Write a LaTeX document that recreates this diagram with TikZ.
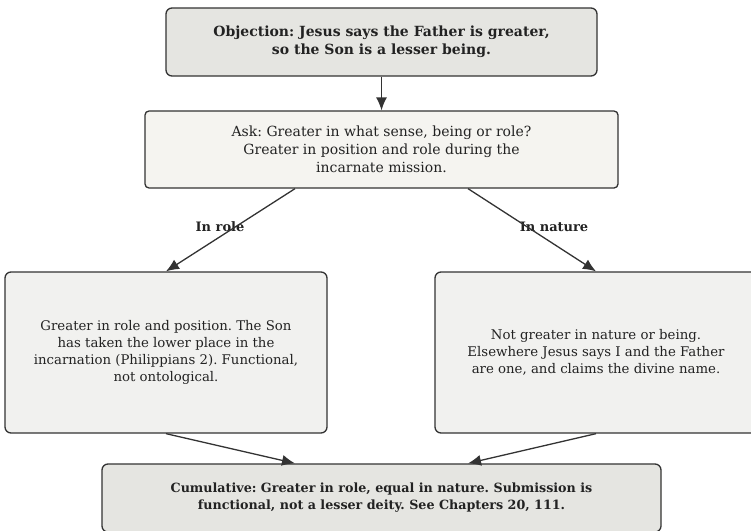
\documentclass[tikz,border=0pt]{standalone}
\usepackage{fontspec}
\setmainfont{DejaVu Serif}
\usetikzlibrary{positioning,calc,arrows.meta}
\definecolor{headgray}{RGB}{229,229,225}
\definecolor{askcream}{RGB}{245,244,240}
\definecolor{branchgray}{RGB}{241,241,239}
\definecolor{edgedark}{RGB}{51,51,51}
\definecolor{textdark}{RGB}{34,34,34}
\frenchspacing

\begin{document}
\begin{tikzpicture}[x=1pt,y=-1pt,
    box/.style={draw=edgedark, line width=1.3pt, rounded corners=6pt,
                align=center, text=textdark, inner sep=0pt},
    link/.style={draw=edgedark, line width=1.3pt, -{Latex[length=13pt,width=11pt]}},
    tag/.style={font=\fontsize{13}{15}\selectfont\bfseries, text=textdark}]
    \useasboundingbox (0,0) rectangle (751,530);

    % question and first answer
    \node[box, fill=headgray, minimum width=431pt, minimum height=68pt,
          font=\fontsize{14}{18}\selectfont\bfseries] (objection) at (381.5,42) {
        Objection: Jesus says the Father is greater,\\
        so the Son is a lesser being.
    };
    \node[box, fill=askcream, rounded corners=4pt, minimum width=473pt, minimum height=77pt,
          font=\fontsize{14}{18}\selectfont] (ask) at (381.5,149.5) {
        Ask: Greater in what sense, being or role?\\
        Greater in position and role during the\\
        incarnate mission.
    };

    % the two senses
    \node[box, fill=branchgray, minimum width=322pt, minimum height=161pt,
          font=\fontsize{13.3}{17}\selectfont] (role) at (166,352.5) {
        Greater in role and position. The Son\\
        has taken the lower place in the\\
        incarnation (Philippians 2). Functional,\\
        not ontological.
    };
    \node[box, fill=branchgray, minimum width=322pt, minimum height=161pt,
          font=\fontsize{13.3}{17}\selectfont] (nature) at (596,352.5) {
        Not greater in nature or being.\\
        Elsewhere Jesus says I and the Father\\
        are one, and claims the divine name.
    };

    % conclusion
    \node[box, fill=headgray, minimum width=559pt, minimum height=68pt,
          font=\fontsize{12.7}{17}\selectfont\bfseries] (cumulative) at (381.5,498) {
        Cumulative: Greater in role, equal in nature. Submission is\\
        functional, not a lesser deity. See Chapters 20, 111.
    };

    \node[tag] (rolelabel) at (220,227) {In role};
    \node[tag] (naturelabel) at (554,227) {In nature};

    \draw[link] (objection) -- (ask);
    \draw[link] ($(ask.south)+(-86.5,0)$) -- (role.north);
    \draw[link] ($(ask.south)+(86.5,0)$) -- (nature.north);
    \draw[link] (role.south) -- ($(cumulative.north)+(-86.5,0)$);
    \draw[link] (nature.south) -- ($(cumulative.north)+(86.5,0)$);
\end{tikzpicture}
\end{document}
